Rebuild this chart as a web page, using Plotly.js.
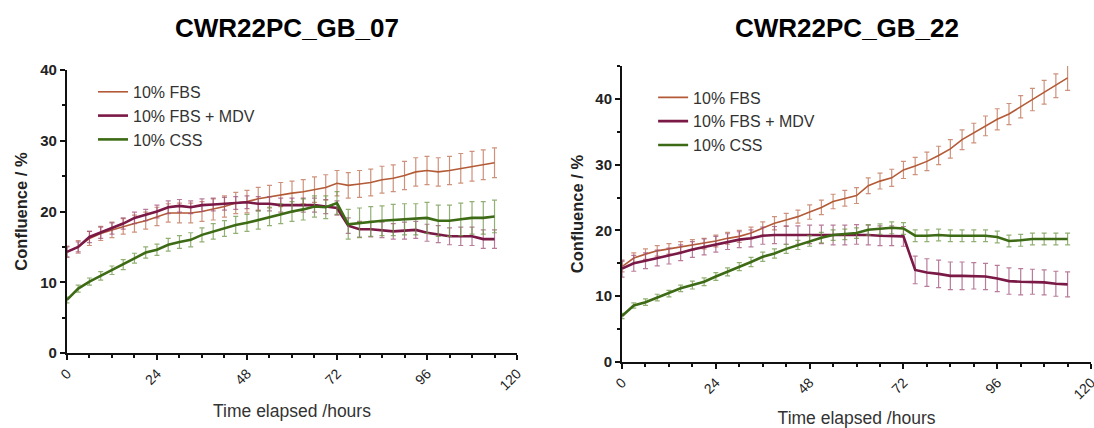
<!DOCTYPE html>
<html>
<head>
<meta charset="utf-8">
<script src="https://cdn.plot.ly/plotly-3.0.1.min.js"></script>
<style>html,body{margin:0;padding:0;background:#fff}#chart{width:1094px;height:428px}</style>
</head>
<body>
<div id="chart"></div>
<script>
// time points (hours)
const time = [0,3,6,9,12,15,18,21,24,27,30,33,36,39,42,45,48,51,54,57,60,63,66,69,72,75,78,81,84,87,90,93,96,99,102,105,108,111,114];

// CWR22PC_GB_07
const gb07_fbs = [14.3,15.0,16.2,16.9,17.4,17.9,18.3,18.7,19.3,19.8,19.8,19.8,20.0,20.3,20.7,21.2,21.4,21.8,22.1,22.4,22.6,22.8,23.1,23.4,24.0,23.7,23.9,24.1,24.5,24.7,25.1,25.6,25.8,25.6,25.8,26.1,26.4,26.6,26.9];
const gb07_fbs_err = [0.8,0.9,1.0,1.0,1.1,1.1,1.2,1.2,1.3,1.3,1.4,1.4,1.4,1.5,1.5,1.5,1.6,1.6,1.6,1.7,1.7,1.7,1.8,1.8,1.8,1.8,1.9,1.9,1.9,1.9,2.0,2.0,2.0,2.0,2.0,2.1,2.1,2.1,2.1];
const gb07_mdv = [14.3,15.0,16.4,17.0,17.6,18.3,19.1,19.5,20.0,20.6,20.8,20.6,20.9,21.0,21.1,21.2,21.3,21.1,21.1,20.9,20.9,20.9,20.9,20.7,20.5,18.0,17.5,17.5,17.4,17.2,17.3,17.4,17.0,16.8,16.5,16.5,16.5,16.1,16.1];
const gb07_mdv_err = [0.7,0.7,0.8,0.8,0.8,0.8,0.8,0.8,0.9,0.9,0.9,0.9,0.9,0.9,0.9,0.9,0.9,1.0,1.0,1.0,1.0,1.0,1.0,1.0,1.0,1.1,1.1,1.1,1.1,1.1,1.2,1.2,1.2,1.2,1.2,1.3,1.3,1.3,1.3];
const gb07_css = [7.5,9.1,10.1,10.9,11.7,12.5,13.4,14.2,14.6,15.3,15.7,16.0,16.7,17.2,17.6,18.1,18.4,18.8,19.3,19.7,20.0,20.3,20.7,20.6,21.2,18.2,18.4,18.6,18.7,18.8,18.9,18.9,19.1,18.7,18.7,18.9,19.1,19.1,19.3];
const gb07_css_err = [0.4,0.5,0.5,0.6,0.6,0.7,0.7,0.8,0.8,0.9,0.9,1.0,1.0,1.1,1.1,1.2,1.2,1.3,1.3,1.4,1.4,1.5,1.5,1.6,1.6,2.1,2.1,2.1,2.1,2.2,2.2,2.2,2.2,2.2,2.2,2.3,2.3,2.3,2.3];

// CWR22PC_GB_22
const gb22_fbs = [14.5,15.8,16.4,16.9,17.2,17.5,17.8,18.0,18.4,18.8,19.1,19.6,20.3,21.1,21.6,22.1,22.8,23.5,24.4,24.9,25.3,26.8,27.5,28.0,29.2,29.8,30.5,31.4,32.4,33.8,34.8,35.9,36.9,37.7,38.8,39.9,41.0,42.0,43.2];
const gb22_fbs_err = [0.8,0.8,0.8,0.8,0.8,0.8,0.8,0.8,0.9,0.9,0.9,0.9,1.0,1.0,1.0,1.0,1.1,1.1,1.1,1.2,1.2,1.2,1.2,1.3,1.3,1.3,1.4,1.4,1.4,1.5,1.5,1.5,1.6,1.6,1.7,1.7,1.8,1.8,1.9];
const gb22_mdv = [14.2,15.0,15.4,15.8,16.1,16.6,17.1,17.5,17.9,18.3,18.6,18.8,19.2,19.3,19.3,19.3,19.4,19.4,19.3,19.3,19.4,19.3,19.2,19.2,19.1,14.0,13.6,13.4,13.1,13.1,13.1,13.0,12.7,12.3,12.2,12.2,12.1,11.9,11.8];
const gb22_mdv_err = [1.3,1.2,1.2,1.2,1.2,1.2,1.2,1.2,1.2,1.2,1.2,1.3,1.3,1.3,1.4,1.4,1.4,1.4,1.5,1.5,1.5,1.5,1.5,1.5,1.5,2.1,2.1,2.1,2.1,2.1,2.0,2.0,2.0,2.0,2.0,1.9,1.9,1.9,1.9];
const gb22_css = [7.0,8.6,9.1,9.8,10.4,11.2,11.7,12.2,13.0,13.7,14.5,15.2,16.0,16.5,17.2,17.8,18.4,18.9,19.3,19.4,19.6,20.1,20.2,20.4,20.3,19.2,19.2,19.3,19.2,19.2,19.2,19.2,19.0,18.4,18.5,18.7,18.7,18.7,18.7];
const gb22_css_err = [0.4,0.4,0.5,0.5,0.5,0.5,0.6,0.6,0.6,0.6,0.6,0.7,0.7,0.7,0.7,0.7,0.8,0.8,0.8,0.8,0.8,0.8,0.8,0.9,0.9,0.9,0.9,0.9,0.9,0.9,0.9,0.9,0.9,0.9,0.9,0.9,0.9,0.9,0.9];

const seriesNames = ['10% FBS', '10% FBS + MDV', '10% CSS'];
const xTickVals = [0,24,48,72,96,120];
const chartTitles = ['CWR22PC_GB_07', 'CWR22PC_GB_22'];
const xTitle = 'Time elapsed /hours';
const yTitle = 'Confluence / %';

const lineColors = ['#b35a36', '#7a1846', '#3d6a14'];
const errColors = ['rgba(190,110,80,0.75)', 'rgba(160,80,120,0.75)', 'rgba(110,150,70,0.75)'];
const lineWidths = [1.6, 2.6, 2.6];

function mk(y, err, i, xa, ya, leg) {
  return {
    x: time, y: y, type: 'scatter', mode: 'lines',
    name: seriesNames[i], xaxis: xa, yaxis: ya, legend: leg,
    line: {color: lineColors[i], width: lineWidths[i]},
    error_y: {type: 'data', array: err, visible: true, color: errColors[i], thickness: 1.2, width: 2.5}
  };
}

const data = [
  mk(gb07_fbs, gb07_fbs_err, 0, 'x', 'y', 'legend'),
  mk(gb07_mdv, gb07_mdv_err, 1, 'x', 'y', 'legend'),
  mk(gb07_css, gb07_css_err, 2, 'x', 'y', 'legend'),
  mk(gb22_fbs, gb22_fbs_err, 0, 'x2', 'y2', 'legend2'),
  mk(gb22_mdv, gb22_mdv_err, 1, 'x2', 'y2', 'legend2'),
  mk(gb22_css, gb22_css_err, 2, 'x2', 'y2', 'legend2')
];

const axisCommon = {
  showgrid: false, zeroline: false, showline: true, linecolor: '#111', linewidth: 2,
  ticks: 'outside', ticklen: 5, tickwidth: 2, tickcolor: '#111', ticklabeloverflow: 'allow'
};
function xaxis(dom, anchor, standoff) {
  return Object.assign({}, axisCommon, {
    domain: dom, anchor: anchor, range: [0, 120], tickvals: xTickVals, tickangle: -45,
    tickfont: {family: 'Arial, Liberation Sans', size: 14, color: '#222'},
    minor: {dtick: 6, ticks: 'outside', ticklen: 3, tickwidth: 2, tickcolor: '#111', showgrid: false},
    title: {text: xTitle, font: {family: 'Arial, Liberation Sans', size: 17.5, color: '#333'}, standoff: standoff}
  });
}
function yaxis(dom, anchor, maxv) {
  return Object.assign({}, axisCommon, {
    domain: dom, anchor: anchor, range: [0, maxv], dtick: 10,
    tickfont: {family: 'Arial, Liberation Sans', size: 15, color: '#222', weight: 'bold'},
    minor: {dtick: 5, ticks: 'outside', ticklen: 3, tickwidth: 2, tickcolor: '#111', showgrid: false},
    title: {text: yTitle, font: {family: 'Arial, Liberation Sans', size: 16.5, color: '#222', weight: 'bold'}, standoff: 8}
  });
}

const legFont = {family: 'Arial, Liberation Sans', size: 16, color: '#333'};
const layout = {
  width: 1094, height: 428,
  margin: {l: 0, r: 0, t: 0, b: 0},
  paper_bgcolor: '#fff', plot_bgcolor: '#fff',
  xaxis: xaxis([0.0612, 0.4726], 'y', 12),
  yaxis: yaxis([0.1752, 0.8364], 'x', 40),
  xaxis2: xaxis([0.5686, 0.9973], 'y2', 16),
  yaxis2: yaxis([0.1542, 0.8458], 'x2', 45),
  legend: {x: 0.085, y: 0.825, xanchor: 'left', yanchor: 'top', font: legFont, bgcolor: 'rgba(0,0,0,0)', tracegroupgap: 0, itemwidth: 30},
  legend2: {x: 0.597, y: 0.812, xanchor: 'left', yanchor: 'top', font: legFont, bgcolor: 'rgba(0,0,0,0)', tracegroupgap: 0, itemwidth: 30},
  annotations: [
    {text: chartTitles[0], x: 287/1094, y: 1 - 28/428, xref: 'paper', yref: 'paper', xanchor: 'center', yanchor: 'middle', showarrow: false,
     font: {family: 'Arial, Liberation Sans', size: 26, color: '#000', weight: 'bold'}},
    {text: chartTitles[1], x: 847/1094, y: 1 - 28/428, xref: 'paper', yref: 'paper', xanchor: 'center', yanchor: 'middle', showarrow: false,
     font: {family: 'Arial, Liberation Sans', size: 26, color: '#000', weight: 'bold'}}
  ]
};

Plotly.newPlot('chart', data, layout, {displayModeBar: false, staticPlot: true});
</script>
</body>
</html>
